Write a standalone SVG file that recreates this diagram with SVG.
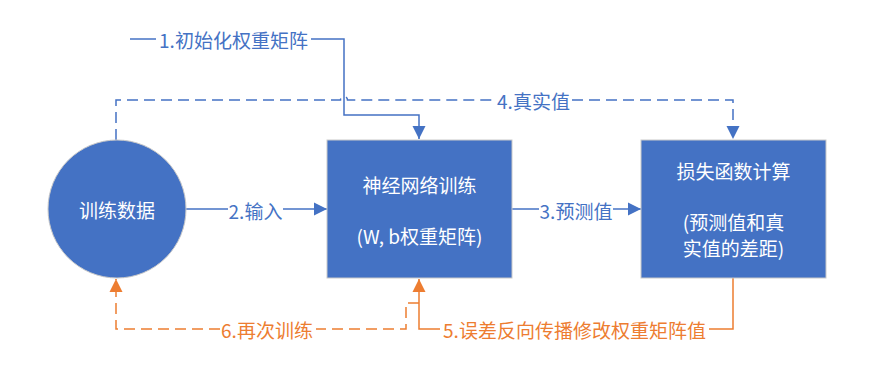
<svg xmlns="http://www.w3.org/2000/svg" width="882" height="372" viewBox="0 0 882 372">
<style>
.node{fill:#4472C4;stroke:#C9C9C9;stroke-width:1}
.nt{fill:#FFFFFF;font-family:"Noto Sans CJK SC","Noto Sans",sans-serif;font-size:19px;text-anchor:middle;dominant-baseline:central}
.lb{font-family:"Noto Sans CJK SC","Noto Sans",sans-serif;font-size:19px;text-anchor:middle;dominant-baseline:central}
.blue{fill:#4472C4}
.orange{fill:#ED7D31}
.cb{fill:none;stroke:#4472C4;stroke-width:1.5}
.co{fill:none;stroke:#ED7D31;stroke-width:1.5}
.dash{stroke-dasharray:11 6}
</style>
<defs>
<marker id="ab" markerUnits="userSpaceOnUse" markerWidth="14" markerHeight="14" refX="13" refY="7" orient="auto">
<path d="M0,0.5 L13,7 L0,13.5 z" fill="#4472C4"/>
</marker>
<marker id="ao" markerUnits="userSpaceOnUse" markerWidth="14" markerHeight="14" refX="13" refY="7" orient="auto">
<path d="M0,0.5 L13,7 L0,13.5 z" fill="#ED7D31"/>
</marker>
</defs>
<rect width="882" height="372" fill="#FFFFFF"/>
<g id="connectors">
<path class="cb dash" d="M116,140 V100 H340.5 a3.5,3.5 0 0 1 7,0 H495"/>
<path class="cb dash" d="M572,100 H733 V139" marker-end="url(#ab)"/>
<text class="lb blue" x="533.5" y="100">4.真实值</text>
<path class="cb" d="M130,39 H156"/>
<path class="cb" d="M311,39 H344 V115 H419 V139" marker-end="url(#ab)"/>
<text class="lb blue" x="233.5" y="39">1.初始化权重矩阵</text>
<path class="cb" d="M186,209 H228"/>
<path class="cb" d="M283,209 H327" marker-end="url(#ab)"/>
<text class="lb blue" x="255.5" y="210">2.输入</text>
<path class="cb" d="M512,209 H539"/>
<path class="cb" d="M613,209 H641" marker-end="url(#ab)"/>
<text class="lb blue" x="576" y="210">3.预测值</text>
<path class="co" d="M733,278 V329 H709"/>
<path class="co" d="M440,329 H419 V279" marker-end="url(#ao)"/>
<text class="lb orange" x="574.5" y="329">5.误差反向传播修改权重矩阵值</text>
<path class="co dash" d="M419,303 H406 V329 H316"/>
<path class="co dash" d="M220,329 H116 V279" marker-end="url(#ao)"/>
<text class="lb orange" x="267" y="329">6.再次训练</text>
</g>
<g id="node-data">
<circle class="node" cx="117" cy="209" r="69"/>
<text class="nt" x="117" y="209">训练数据</text>
</g>
<g id="node-nn">
<rect class="node" x="327" y="140" width="185" height="138"/>
<text class="nt" x="419.5" y="184">神经网络训练</text>
<text class="nt" x="419.5" y="235">(W, b权重矩阵)</text>
</g>
<g id="node-loss">
<rect class="node" x="641" y="140" width="185" height="138"/>
<text class="nt" x="733.5" y="170">损失函数计算</text>
<text class="nt" x="733.5" y="221">(预测值和真</text>
<text class="nt" x="733.5" y="247">实值的差距)</text>
</g>
</svg>
